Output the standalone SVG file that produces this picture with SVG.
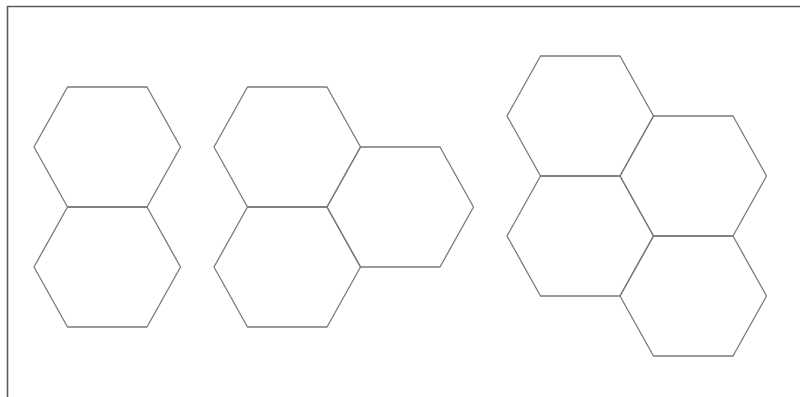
<svg xmlns="http://www.w3.org/2000/svg" width="800" height="397" viewBox="0 0 800 397">
<style>
.hex{fill:none;stroke:#7a7a7a;stroke-width:1.3;stroke-linejoin:round}
.frame{fill:none;stroke:#5a5a5a;stroke-width:1.6}
</style>
<defs>
<polygon id="h" points="0,60 33.5,0 113,0 146.5,60 113,120 33.5,120"/>
</defs>
<rect width="800" height="397" fill="#ffffff"/>
<polyline class="frame" points="7.5,397 7.5,6.5 800,6.5"/>
<g id="group1">
<g id="hex1a"><use href="#h" class="hex" x="34" y="87"/></g>
<g id="hex1b"><use href="#h" class="hex" x="34" y="207"/></g>
</g>
<g id="group2">
<g id="hex2a"><use href="#h" class="hex" x="214" y="87"/></g>
<g id="hex2b"><use href="#h" class="hex" x="214" y="207"/></g>
<g id="hex2c"><use href="#h" class="hex" x="327" y="147"/></g>
</g>
<g id="group3">
<g id="hex3a"><use href="#h" class="hex" x="507" y="56"/></g>
<g id="hex3b"><use href="#h" class="hex" x="620" y="116"/></g>
<g id="hex3c"><use href="#h" class="hex" x="507" y="176"/></g>
<g id="hex3d"><use href="#h" class="hex" x="620" y="236"/></g>
</g>
<g id="connectors"/>
</svg>
